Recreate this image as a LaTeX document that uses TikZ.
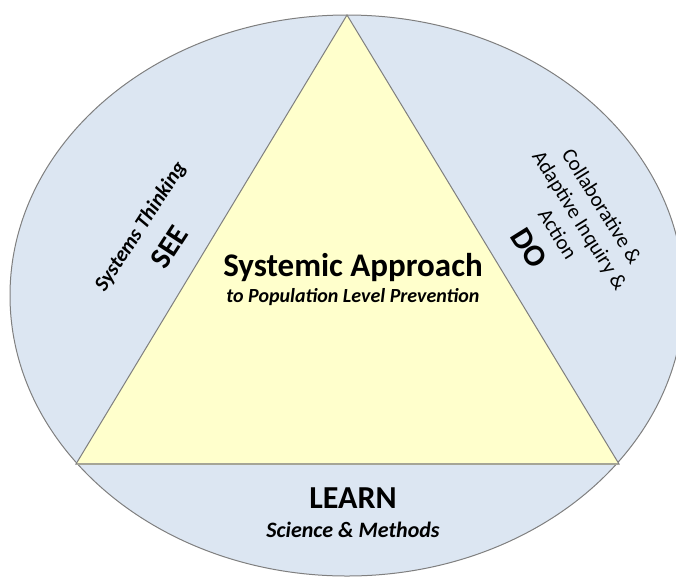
\documentclass[tikz,border=0pt]{standalone}
\usepackage{fontspec}
\setmainfont{Carlito}

\definecolor{ringblue}{HTML}{DCE6F2}
\definecolor{triyellow}{HTML}{FFFFCC}
\definecolor{edgegray}{HTML}{7F7F7F}

\tikzset{
	sidetext/.style={text=black, align=center, inner sep=0pt},
	shapeline/.style={draw=edgegray, line width=1pt}
}

\begin{document}
\begin{tikzpicture}[x=1pt, y=-1pt]
		\useasboundingbox (0, 0) rectangle (676, 576);

		%%% Outer ring
		\filldraw[shapeline, fill=ringblue] (347, 295.5) ellipse [x radius=337, y radius=280.5];

		%%% Triangle
		\filldraw[shapeline, fill=triyellow] (347, 15) -- (619, 464) -- (76, 464) -- cycle;
		\draw[edgegray!70!triyellow, line width=1.6pt] (77, 464) -- (618, 464);

		%%% Middle
		\node[sidetext, anchor=base, font=\bfseries\fontsize{33}{38}\selectfont] (approach) at (353, 276) {Systemic Approach};
		\node[sidetext, anchor=base, font=\bfseries\itshape\fontsize{20}{24}\selectfont] (prevention) at (353, 302) {to Population Level Prevention};

		%%% Bottom
		\node[sidetext, anchor=base, font=\bfseries\fontsize{32}{36}\selectfont] (learn) at (353, 508) {LEARN};
		\node[sidetext, anchor=base, font=\bfseries\itshape\fontsize{22}{26}\selectfont] (methods) at (353, 537) {Science \& Methods};

		%%% Left
		\node[sidetext, rotate=57, font=\bfseries\itshape\fontsize{21}{24}\selectfont] (thinking) at (141, 227) {Systems Thinking};
		\node[sidetext, rotate=57, font=\bfseries\fontsize{30}{34}\selectfont] (see) at (169, 247) {SEE};

		%%% Right
		\node[sidetext, rotate=-58, font=\fontsize{21}{26}\selectfont] (inquiry) at (580, 220) {Collaborative \&\\Adaptive Inquiry \&\\Action};
		\node[sidetext, rotate=-58, font=\bfseries\fontsize{31}{36}\selectfont] (do) at (529, 248) {DO};
\end{tikzpicture}
\end{document}
